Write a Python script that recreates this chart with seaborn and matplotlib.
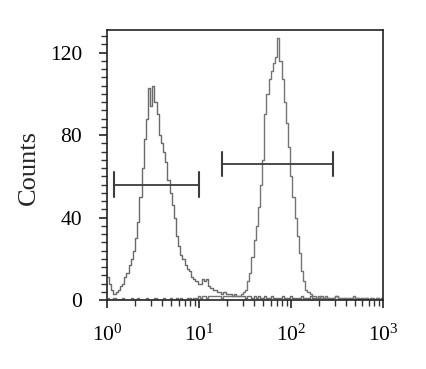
import numpy as np
import pandas as pd
import seaborn as sns
import matplotlib.pyplot as plt
from matplotlib.ticker import MultipleLocator, LogLocator, NullFormatter

# Histogram counts per channel (128 log channels over 3 decades)
counts_neg = [11, 8, 5, 3, 4, 5, 7, 8, 11, 13,
              17, 20, 24, 30, 38, 50, 64, 78, 88, 103,
              94, 104, 96, 90, 80, 76, 72, 67, 58, 52,
              46, 40, 31, 26, 22, 20, 17, 15, 14, 11,
              10, 9, 8, 8, 10, 9, 10, 7, 6, 5,
              5, 4, 4, 3, 4, 3, 3, 3, 2, 3,
              2, 2, 2, 2, 1, 2, 2, 1, 2, 1,
              2, 1, 1, 2, 1, 1, 2, 1, 1, 1,
              1, 2, 1, 1, 1, 2, 1, 1, 1, 1,
              2, 1, 1, 1, 2, 1, 1, 1, 1, 2,
              1, 1, 1, 0, 1, 1, 2, 1, 0, 1,
              1, 0, 1, 1, 0, 1, 1, 0, 1, 0,
              1, 0, 1, 0, 0, 1, 0, 1]
counts_pos = [1, 0, 0, 1, 0, 0, 0, 1, 0, 0,
              0, 1, 0, 0, 1, 0, 0, 0, 1, 0,
              0, 0, 1, 0, 0, 0, 1, 0, 0, 1,
              0, 0, 1, 0, 1, 0, 0, 1, 1, 0,
              1, 1, 2, 1, 2, 2, 1, 2, 2, 2,
              2, 2, 2, 1, 2, 2, 2, 2, 2, 2,
              2, 2, 3, 4, 5, 9, 13, 21, 29, 36,
              45, 56, 68, 90, 100, 107, 111, 115, 118, 127,
              116, 107, 96, 86, 74, 60, 50, 40, 31, 23,
              14, 9, 5, 4, 3, 2, 2, 1, 2, 1,
              1, 2, 1, 1, 0, 1, 2, 1, 1, 0,
              1, 1, 0, 1, 2, 0, 1, 1, 0, 1,
              1, 0, 1, 1, 0, 1, 0, 1]

# Marker gates
gate_lo = [1.2, 18]
gate_hi = [10, 290]
gate_y = [56, 66]

n_ch = len(counts_neg)
channel = np.arange(n_ch)
fluor = 10 ** ((channel + 0.5) * 3 / n_ch)

df = pd.DataFrame({'fluor': np.concatenate([fluor, fluor]),
                   'count': counts_neg + counts_pos,
                   'sample': ['neg'] * n_ch + ['pos'] * n_ch})

sns.set_style('ticks')
plt.rcParams['font.family'] = ['Liberation Serif', 'DejaVu Serif']
plt.rcParams['mathtext.fontset'] = 'custom'
plt.rcParams['mathtext.rm'] = 'Liberation Serif'
plt.rcParams['mathtext.it'] = 'Liberation Serif'

fig = plt.figure(figsize=(4.27, 3.69), dpi=100)
ax = fig.add_axes([0.2506, 0.187, 0.646, 0.732])

sns.lineplot(data=df, x='fluor', y='count', hue='sample',
             palette={'neg': '#6a6a6a', 'pos': '#747474'},
             drawstyle='steps-mid', linewidth=1.0, legend=False, ax=ax)

# gate bars with end caps
for lo, hi, gy in zip(gate_lo, gate_hi, gate_y):
    ax.plot([lo, hi], [gy, gy], color='#3c3c3c', lw=1.3)
    ax.plot([lo, lo], [gy - 6, gy + 6], color='#3c3c3c', lw=1.5)
    ax.plot([hi, hi], [gy - 6, gy + 6], color='#3c3c3c', lw=1.5)

ax.set_xscale('log')
ax.set_xlim(1, 1000)
ax.set_ylim(0, 131)
ax.set_xticks([1, 10, 100, 1000])
ax.set_xticklabels([r'$10^{0}$', r'$10^{1}$', r'$10^{2}$', r'$10^{3}$'])
ax.xaxis.set_minor_locator(LogLocator(base=10, subs=np.arange(2, 10)))
ax.xaxis.set_minor_formatter(NullFormatter())
ax.set_yticks([0, 40, 80, 120])
ax.yaxis.set_minor_locator(MultipleLocator(4))

ax.tick_params(axis='x', which='major', direction='out', length=6, width=1.2,
               labelsize=15.5, pad=12, colors='#222222', labelcolor='black')
ax.tick_params(axis='x', which='minor', direction='out', length=4, width=1.0, colors='#333333')
ax.tick_params(axis='y', which='major', direction='out', length=6, width=1.2,
               labelsize=15.5, pad=12, colors='#222222', labelcolor='black')
ax.tick_params(axis='y', which='minor', direction='out', length=4, width=1.0, colors='#333333')

for side in ['top', 'right', 'left', 'bottom']:
    ax.spines[side].set_visible(True)
    ax.spines[side].set_linewidth(1.2)
    ax.spines[side].set_color('#222222')

ax.set_xlabel('')
ax.set_ylabel('Counts', fontsize=19)
ax.yaxis.set_label_coords(-0.243, 0.49)

fig.savefig('out.png', dpi=100)
